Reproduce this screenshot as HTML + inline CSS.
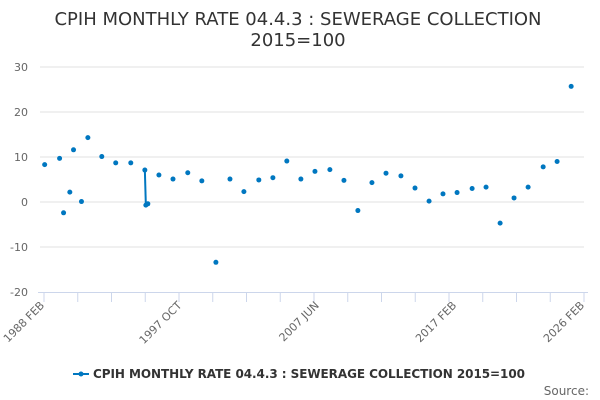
<!DOCTYPE html>
<html><head><meta charset="utf-8"><style>
body{margin:0;background:#fff;font-family:"DejaVu Sans","Liberation Sans",sans-serif;}
#wrap{position:relative;width:600px;height:400px;overflow:hidden;}
</style></head><body>
<div id="wrap">
<svg id="chart" width="600" height="400">
<text x="298" y="25" text-anchor="middle" font-size="18" fill="#333"><tspan x="298" y="25">CPIH MONTHLY RATE 04.4.3 : SEWERAGE COLLECTION</tspan><tspan x="298" y="46">2015=100</tspan></text>
<g id="grid"></g><g id="xaxis"></g><g id="series"></g>
<g>
<line x1="73" y1="374" x2="89" y2="374" stroke="#0077c0" stroke-width="2"/>
<circle cx="81" cy="374" r="2.5" fill="#0077c0"/>
<text x="93" y="378" font-size="12" font-weight="bold" fill="#333" textLength="432">CPIH MONTHLY RATE 04.4.3 : SEWERAGE COLLECTION 2015=100</text>
</g>
<text x="589" y="395" text-anchor="end" font-size="12" fill="#666">Source:</text>
</svg>
</div>
<script>
const years=[1988.13,1989.18,1989.46,1989.9,1990.16,1990.72,1991.17,1992.15,1993.13,1994.19,1995.18,1995.25,1995.39,1996.17,1997.16,1998.2,1999.19,2000.18,2001.17,2002.15,2003.2,2004.19,2005.17,2006.16,2007.15,2008.2,2009.19,2010.17,2011.16,2012.15,2013.2,2014.19,2015.18,2016.16,2017.15,2018.21,2019.19,2020.18,2021.16,2022.15,2023.21,2024.19,2025.18];
const values=[8.3,9.7,-2.4,2.2,11.6,0.1,14.3,10.1,8.7,8.7,7.1,-0.7,-0.4,6.0,5.1,6.5,4.7,-13.4,5.1,2.3,4.9,5.4,9.1,5.1,6.8,7.2,4.8,-1.9,4.3,6.4,5.8,3.1,0.2,1.8,2.1,3.0,3.3,-4.7,0.9,3.3,7.8,9.0,25.7];
const yTicks=[30,20,10,0,-10,-20];
const xLabels=["1988 FEB","1997 OCT","2007 JUN","2017 FEB","2026 FEB"];
const xLabelYears=[1988.083,1997.75,2007.417,2017.083,2026.083];
const NS="http://www.w3.org/2000/svg";
const X0=44,X1=584,Y0=202;
function xs(t){return X0+(t-1988.083)/(2026.083-1988.083)*(X1-X0);}
function ys(v){return Y0-v*4.5;}
function mk(tag,a,p){const e=document.createElementNS(NS,tag);for(const k in a)e.setAttribute(k,a[k]);p.appendChild(e);return e;}
const grid=document.getElementById('grid');
yTicks.forEach(v=>{
 if(v>-20){const l=mk('line',{x1:40,x2:584,y1:ys(v),y2:ys(v),stroke:'#e0e0e0','stroke-width':1},grid);
 
 }
 const t=mk('text',{x:28,y:ys(v)+4,'text-anchor':'end','font-size':11,fill:'#666'},grid);
 t.textContent=v;
 
 
});
const xa=document.getElementById('xaxis');
const ax=mk('line',{x1:38,x2:588,y1:292.5,y2:292.5,stroke:'#ccd6eb','stroke-width':1},xa);


for(let i=0;i<=16;i++){
 const x=X0+i*(X1-X0)/16;
 const tk=mk('line',{x1:x,x2:x,y1:292,y2:302,stroke:'#ccd6eb'},xa);
 
 
}
xLabels.forEach((s,i)=>{
 const x=xs(xLabelYears[i]);
 const t=mk('text',{x:x+1,y:306,'text-anchor':'end','font-size':11,fill:'#666',transform:`rotate(-45 ${x+1} 306)`},xa);
 t.textContent=s;
 
 
});
const sg=document.getElementById('series');
for(let i=1;i<years.length;i++){
 if(years[i]-years[i-1]<0.5 && Math.abs(years[i]-1995.3)<0.5){
  const l=mk('line',{x1:xs(years[i-1]),y1:ys(values[i-1]),x2:xs(years[i]),y2:ys(values[i]),stroke:'#0077c0','stroke-width':2},sg);
  
  
 }
}
years.forEach((t,i)=>{
 const c=mk('circle',{cx:xs(t),cy:ys(values[i]),r:2.5,fill:'#0077c0'},sg);
 
 
});
</script>
</body></html>
